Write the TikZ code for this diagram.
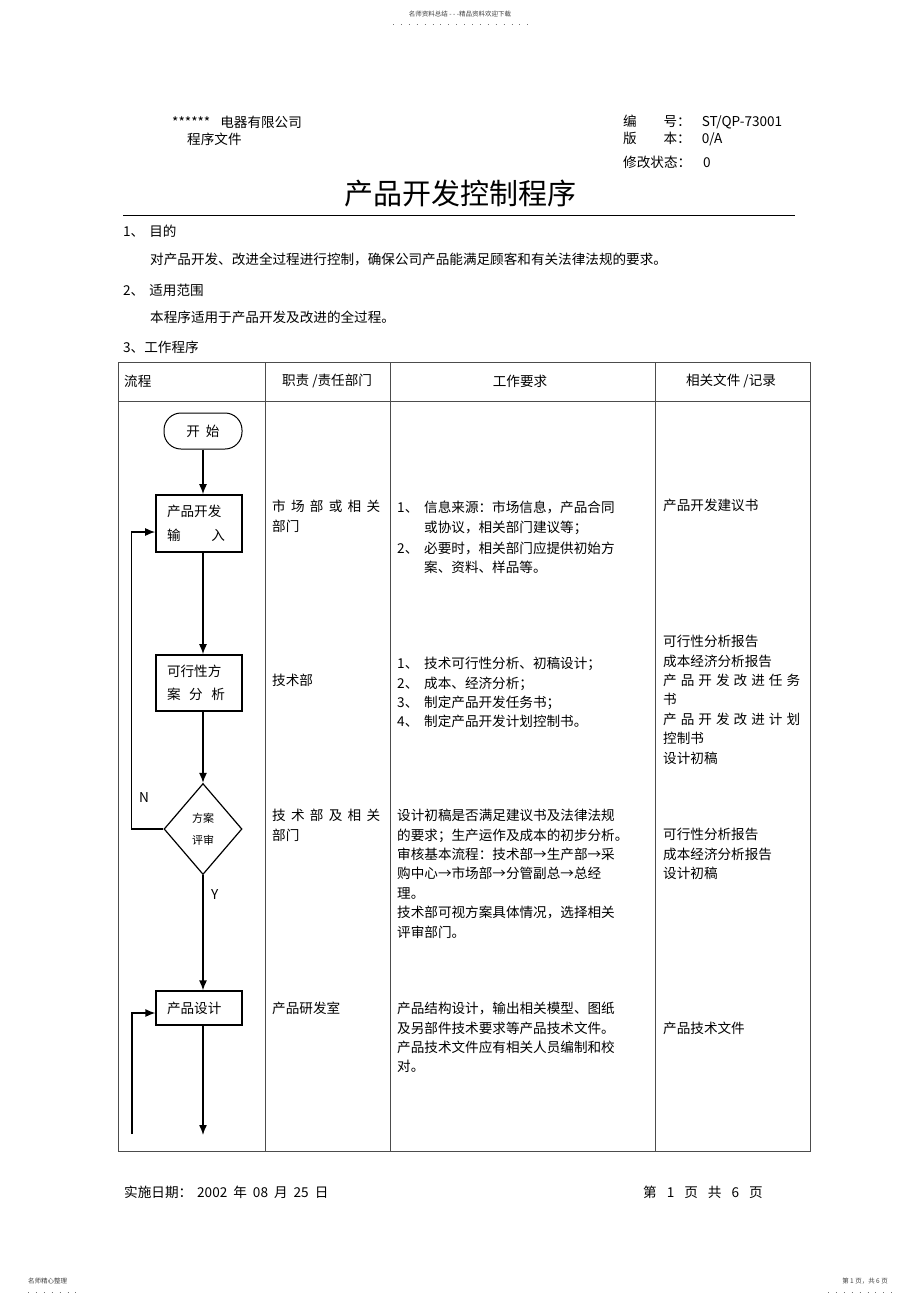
\documentclass[tikz,border=0pt]{standalone}
\usepackage{fontspec}
\setmainfont{Noto Sans CJK SC}
\usetikzlibrary{shapes.geometric}
\usetikzlibrary{arrows.meta}
\newcommand{\bodyfont}{\fontsize{13.6}{19.4}\selectfont}
\newcommand{\spreadbox}[2]{\makebox[#1][s]{#2}}
\tikzset{
txt/.style={anchor=west, inner sep=0pt, font=\bodyfont},
cell/.style={anchor=north west, inner sep=0pt, align=left, font=\bodyfont},
rule/.style={draw=black!70, line width=1pt},
flowline/.style={line width=1.4pt, -{Latex[length=10pt,width=8pt]}},
flowbox/.style={
  draw,
  line width=1.6pt,
  inner xsep=11pt,
  text width=64pt,
  align=left,
  font=\fontsize{13.6}{23.5}\selectfont
},
startbox/.style={draw, line width=1pt, rounded corners=17pt, minimum width=78pt, minimum height=36pt, font=\bodyfont},
reviewbox/.style={diamond, draw, line width=1.2pt, minimum width=78pt, minimum height=91pt, inner sep=0pt, align=center, font=\fontsize{11}{22}\selectfont},
tinytext/.style={inner sep=0pt, text=black!75, font=\fontsize{6.5}{7}\selectfont},
dotrow/.style={draw=black!55, line width=0.9pt, dash pattern=on 0.9pt off 7pt},
}

\begin{document}
\begin{tikzpicture}[x=1pt,y=-1pt]
\path[use as bounding box, fill=white] (0,0) rectangle (920,1304);

% page header
\node[tinytext] (topnote) at (460,14) {名师资料总结 - - -精品资料欢迎下载};
\draw[dotrow] (393,24) -- (530,24);
\node[txt] (company) at (172,122) {******\hspace{10pt}电器有限公司};
\node[txt] (doctype) at (187,139) {程序文件};
\node[txt] (docno) at (623,122) {\spreadbox{54pt}{编 号}：\hspace{11pt}ST/QP-73001};
\node[txt] (docver) at (623,139) {\spreadbox{54pt}{版 本}：\hspace{11pt}0/A};
\node[txt] (docrev) at (623,162) {修改状态：\hspace{12pt}0};
\node[inner sep=0pt, font=\fontsize{29}{29}\selectfont] (title) at (460,194) {产品开发控制程序};
\draw[line width=1pt] (123,215) -- (795,215);

% sections
\node[txt] (sec1) at (123,231) {1、\hspace{5pt}目的};
\node[txt] (purpose) at (150,259) {对产品开发、改进全过程进行控制，确保公司产品能满足顾客和有关法律法规的要求。};
\node[txt] (sec2) at (123,290) {2、\hspace{5pt}适用范围};
\node[txt] (scope) at (150,317) {本程序适用于产品开发及改进的全过程。};
\node[txt] (sec3) at (123,347) {3、工作程序};

% the table rules
\draw[rule] (118,362) rectangle (810,1151);
\draw[rule] (118,401) -- (810,401);
\foreach \x in {265,390,655}
{
  \draw[rule] (\x,362) -- (\x,1151);
}

% table head
\node[txt] (hflow) at (124,381) {流程};
\node[inner sep=0pt, font=\bodyfont] (hduty) at (327,381) {职责 /责任部门};
\node[inner sep=0pt, font=\bodyfont] (hwork) at (520,381) {工作要求};
\node[inner sep=0pt, font=\bodyfont] (hrec) at (731,381) {相关文件 /记录};

% the flow chart
\coordinate (axis) at (203,0);
\node[startbox] (start) at (203,431) {开\hspace{6pt}始};
\node[flowbox, minimum height=57pt] (input) at (199,523.5) {产品开发\\\spreadbox{58pt}{输\hfill 入}};
\node[flowbox, minimum height=56pt] (feas) at (199,683) {可行性方\\\spreadbox{58pt}{案\hfill 分\hfill 析}};
\node[reviewbox] (review) at (203,829) {方案\\评审};
\node[flowbox, minimum height=34pt, line width=1.2pt] (design) at (199,1008) {产品设计};
\coordinate (flowend) at (203,1135);
\coordinate (loopend) at (132,1134);

\draw[flowline] (start.south) -- (axis |- input.north);
\draw[flowline] (axis |- input.south) -- (axis |- feas.north);
\draw[flowline] (axis |- feas.south) -- (review.north);
\draw[flowline] (review.south) -- (axis |- design.north);
\draw[flowline] (axis |- design.south) -- (flowend);
\draw[flowline] (review.west) -- ++(-32,0) |- ([yshift=-8.5pt]input.west);
\draw[flowline] (loopend) |- ([yshift=-5pt]design.west);
\node[txt] (nlabel) at (139,798) {N};
\node[txt] (ylabel) at (211,895) {Y};

% duties
\node[cell] (duty1) at (272,500) {\spreadbox{108pt}{市 场 部 或 相 关}\\部门};
\node[txt] (duty2) at (272,680) {技术部};
\node[cell] (duty3) at (272,809) {\spreadbox{108pt}{技 术 部 及 相 关}\\部门};
\node[txt] (duty4) at (272,1008) {产品研发室};

% work requirements
\node[cell] (req1) at (397,501) {\makebox[27pt][l]{1、}信息来源：市场信息，产品合同\\
\hspace*{27pt}或协议，相关部门建议等；\\[1.5pt]
\makebox[27pt][l]{2、}必要时，相关部门应提供初始方\\
\hspace*{27pt}案、资料、样品等。};
\node[cell] (req2) at (397,657) {\makebox[27pt][l]{1、}技术可行性分析、初稿设计；\\
\makebox[27pt][l]{2、}成本、经济分析；\\
\makebox[27pt][l]{3、}制定产品开发任务书；\\
\makebox[27pt][l]{4、}制定产品开发计划控制书。};
\node[cell] (req3) at (397,809) {设计初稿是否满足建议书及法律法规\\
的要求；生产运作及成本的初步分析。\\
审核基本流程：技术部→生产部→采\\
购中心→市场部→分管副总→总经\\
理。\\
技术部可视方案具体情况，选择相关\\
评审部门。};
\node[cell] (req4) at (397,1002) {产品结构设计，输出相关模型、图纸\\
及另部件技术要求等产品技术文件。\\
产品技术文件应有相关人员编制和校\\
对。};

% records
\node[txt] (rec1) at (663,505) {产品开发建议书};
\node[cell] (rec2) at (663,635) {可行性分析报告\\
成本经济分析报告\\
\spreadbox{137pt}{产 品 开 发 改 进 任 务}\\
书\\
\spreadbox{137pt}{产 品 开 发 改 进 计 划}\\
控制书\\
设计初稿};
\node[cell] (rec3) at (663,828) {可行性分析报告\\
成本经济分析报告\\
设计初稿};
\node[txt] (rec4) at (663,1028) {产品技术文件};

% page footer
\node[txt] (date) at (124,1192) {实施日期：\hspace{5pt}2002\hspace{6pt}年\hspace{6pt}08\hspace{6pt}月\hspace{6pt}25\hspace{6pt}日};
\node[txt] (pageno) at (643,1192) {第\hspace{10pt}1\hspace{10pt}页\hspace{10pt}共\hspace{10pt}6\hspace{10pt}页};
\node[tinytext, anchor=west] (leftnote) at (28,1281) {名师精心整理};
\draw[dotrow] (28,1292) -- (78,1292);
\node[tinytext, anchor=east] (rightnote) at (888,1281) {第 1 页，共 6 页};
\draw[dotrow] (828,1292) -- (893,1292);
\end{tikzpicture}
\end{document}
